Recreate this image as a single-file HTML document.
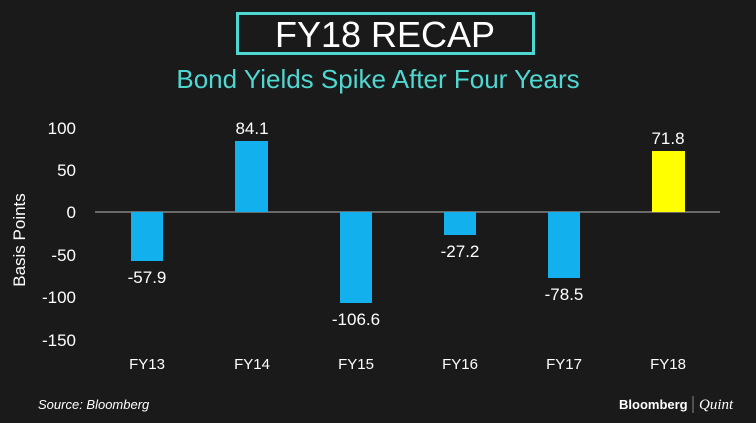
<!DOCTYPE html>
<html><head><style>
body{margin:0;background:#1a1a1a;}
svg{display:block;font-family:"Liberation Sans",sans-serif;}
</style></head><body>
<svg width="756" height="423" viewBox="0 0 756 423">
<rect width="756" height="423" fill="#1a1a1a"/>
<rect x="237.5" y="13.5" width="296" height="40" fill="none" stroke="#4fd8d2" stroke-width="3"/>
<text x="385" y="47" fill="#fff" font-size="36" text-anchor="middle">FY18 RECAP</text>
<text x="378" y="88" fill="#4fd8d2" font-size="26" text-anchor="middle">Bond Yields Spike After Four Years</text>
<g fill="#fff" font-size="17" text-anchor="end">
<text x="76" y="134">100</text><text x="76" y="176">50</text><text x="76" y="218">0</text>
<text x="76" y="261">-50</text><text x="76" y="303">-100</text><text x="76" y="346">-150</text>
</g>
<text transform="translate(25,240) rotate(-90)" fill="#fff" font-size="17" text-anchor="middle">Basis Points</text>
<line x1="95" y1="212" x2="720" y2="212" stroke="#999" stroke-width="1.2"/>
<g fill="#12b1ee">
<rect x="131" y="212" width="32" height="49"/>
<rect x="235" y="141" width="33" height="71"/>
<rect x="340" y="212" width="32" height="91"/>
<rect x="444" y="212" width="32" height="23"/>
<rect x="548" y="212" width="32" height="66"/>
</g>
<rect x="652" y="151" width="33" height="61" fill="#ffff00"/>
<g fill="#fff" font-size="17" text-anchor="middle">
<text x="147" y="283">-57.9</text><text x="252" y="134">84.1</text><text x="356" y="325">-106.6</text>
<text x="460" y="257">-27.2</text><text x="564" y="300">-78.5</text><text x="668" y="144">71.8</text>
</g>
<g fill="#fff" font-size="15" text-anchor="middle">
<text x="147" y="369">FY13</text><text x="252" y="369">FY14</text><text x="356" y="369">FY15</text>
<text x="460" y="369">FY16</text><text x="564" y="369">FY17</text><text x="668" y="369">FY18</text>
</g>
<text x="38" y="409" fill="#fff" font-size="13" font-style="italic">Source: Bloomberg</text>
<text x="619" y="409" fill="#fff" font-size="13" font-weight="bold">Bloomberg</text>
<line x1="693" y1="396" x2="693" y2="413" stroke="#888"/>
<text x="699" y="409" fill="#fff" font-size="15" font-style="italic" font-family="Liberation Serif,serif">Quint</text>
</svg>
</body></html>
